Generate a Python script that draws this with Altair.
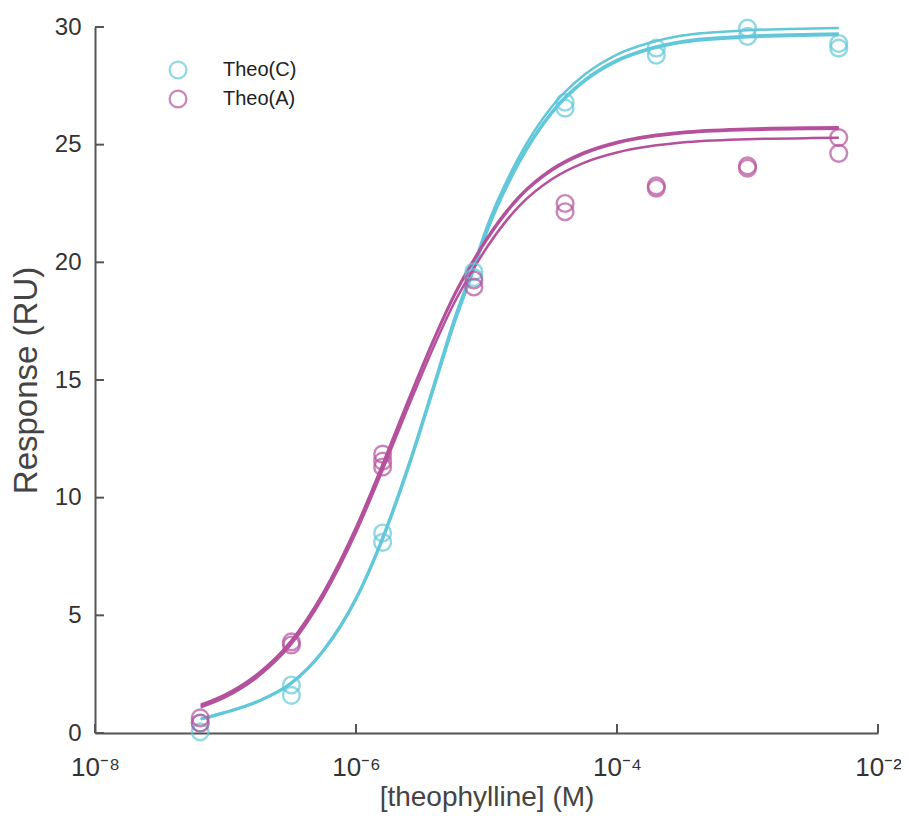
import altair as alt
import pandas as pd

# ---- data ----
conc = [6.4e-8, 3.2e-7, 1.6e-6, 8e-6, 4e-5, 2e-4, 1e-3, 5e-3]
theo_c_rep1 = [0.42, 2.04, 8.5, 19.6, 26.8, 29.1, 29.95, 29.3]
theo_c_rep2 = [0.05, 1.6, 8.1, 19.35, 26.55, 28.8, 29.6, 29.1]
theo_a_rep1 = [0.64, 3.87, 11.85, 19.25, 22.5, 23.25, 24.1, 25.3]
theo_a_rep2 = [0.42, 3.74, 11.55, 18.95, 22.15, 23.15, 24.0, 24.63]
theo_a_extra_conc = [1.6e-6]
theo_a_extra = [11.3]

fit_log_conc = [-7.19, -7.0, -6.75, -6.5, -6.25, -6.0, -5.8, -5.6, -5.4, -5.25,
                -5.1, -5.0, -4.75, -4.5, -4.25, -4.0, -3.75, -3.5, -3.0, -2.5, -2.3]
fit_c1 = [0.6, 0.88, 1.35, 2.1, 3.5, 5.7, 8.2, 11.28, 14.76, 17.41,
          19.7, 21.3, 24.3, 26.4, 27.75, 28.6, 29.1, 29.4, 29.62, 29.7, 29.72]
fit_c2 = [0.6, 0.89, 1.36, 2.12, 3.53, 5.74, 8.27, 11.37, 14.88, 17.55,
          19.86, 21.47, 24.49, 26.61, 27.97, 28.83, 29.33, 29.64, 29.86, 29.94, 29.96]
fit_c3 = [0.58, 0.86, 1.33, 2.08, 3.47, 5.67, 8.16, 11.22, 14.7, 17.34,
          19.63, 21.23, 24.22, 26.33, 27.68, 28.54, 29.04, 29.34, 29.56, 29.64, 29.66]
fit_a1 = [1.2, 1.64, 2.53, 3.9, 5.98, 8.74, 11.37, 14.14, 16.8, 18.6,
          20.1, 21.0, 22.8, 23.96, 24.68, 25.12, 25.38, 25.54, 25.68, 25.73, 25.74]
fit_a2 = [1.15, 1.59, 2.48, 3.85, 5.92, 8.68, 11.31, 14.08, 16.74, 18.54,
          20.04, 20.94, 22.74, 23.9, 24.62, 25.06, 25.32, 25.48, 25.62, 25.67, 25.68]
fit_a3 = [1.09, 1.52, 2.40, 3.75, 5.80, 8.52, 11.12, 13.85, 16.47, 18.25,
          19.72, 20.61, 22.39, 23.53, 24.24, 24.67, 24.93, 25.09, 25.23, 25.28, 25.29]

groups = ["Theo(C)", "Theo(A)"]
colors = ["#62c8d9", "#b5519c"]

y_ticks = [0, 5, 10, 15, 20, 25, 30]
x_ticks = [1e-8, 1e-6, 1e-4, 1e-2]

# ---- tables ----
pts = []
for c, v in zip(conc, theo_c_rep1):
    pts.append({"conc": c, "resp": v, "group": "Theo(C)"})
for c, v in zip(conc, theo_c_rep2):
    pts.append({"conc": c, "resp": v, "group": "Theo(C)"})
for c, v in zip(conc, theo_a_rep1):
    pts.append({"conc": c, "resp": v, "group": "Theo(A)"})
for c, v in zip(conc, theo_a_rep2):
    pts.append({"conc": c, "resp": v, "group": "Theo(A)"})
for c, v in zip(theo_a_extra_conc, theo_a_extra):
    pts.append({"conc": c, "resp": v, "group": "Theo(A)"})
pts_df = pd.DataFrame(pts)

fits = []
for name, grp, vals in [("c1", "Theo(C)", fit_c1), ("c2", "Theo(C)", fit_c2), ("c3", "Theo(C)", fit_c3),
                        ("a1", "Theo(A)", fit_a1), ("a2", "Theo(A)", fit_a2), ("a3", "Theo(A)", fit_a3)]:
    for i, (L, v) in enumerate(zip(fit_log_conc, vals)):
        fits.append({"conc": 10 ** L, "resp": v, "group": grp, "fit": name, "order": i})
fit_df = pd.DataFrame(fits)

ytick_df = pd.DataFrame({"v": y_ticks})
xtick_df = pd.DataFrame({"v": x_ticks})

FONT = "Liberation Sans"
AXIS_COL = "#555555"

label_expr = ("datum.value < 1e-7 ? '10\u207b\u2078' : datum.value < 1e-5 ? '10\u207b\u2076' : "
              "datum.value < 1e-3 ? '10\u207b\u2074' : '10\u207b\u00b2'")

x_scale = alt.Scale(type="log", domain=[1e-8, 1e-2], nice=False)
y_scale = alt.Scale(domain=[0, 30], nice=False)
color_scale = alt.Scale(domain=groups, range=colors)

legend = alt.Legend(title=None, orient="none", legendX=73, legendY=33,
                    symbolType="circle", symbolSize=280, symbolStrokeWidth=2.2,
                    labelFontSize=20, labelOffset=35, rowPadding=3, padding=0,
                    labelFont=FONT, labelColor="#222222")

x_enc = alt.X("conc:Q", scale=x_scale,
              axis=alt.Axis(values=x_ticks, labelExpr=label_expr, title="[theophylline] (M)",
                            ticks=False, labelPadding=21, labelFontSize=26, titlePadding=3,
                            titleFontSize=28, labelFlush=False))
y_enc = alt.Y("resp:Q", scale=y_scale,
              axis=alt.Axis(values=y_ticks, title="Response (RU)", ticks=False,
                            labelPadding=14, labelFontSize=24, titlePadding=11, titleFontSize=33))

lines = alt.Chart(fit_df).mark_line(strokeWidth=2.5, interpolate="monotone", clip=False).encode(
    x=x_enc,
    y=y_enc,
    color=alt.Color("group:N", scale=color_scale, legend=legend),
    detail="fit:N",
    order="order:Q",
)

points = alt.Chart(pts_df).mark_point(shape="circle", filled=False, size=280, strokeWidth=2.4).encode(
    x=alt.X("conc:Q", scale=x_scale),
    y=alt.Y("resp:Q", scale=y_scale),
    color=alt.Color("group:N", scale=color_scale, legend=legend),
)

yticks = alt.Chart(ytick_df).mark_rule(color=AXIS_COL, strokeWidth=2).encode(
    y=alt.Y("v:Q", scale=y_scale),
    x=alt.value(0),
    x2=alt.value(9),
)
xticks = alt.Chart(xtick_df).mark_rule(color=AXIS_COL, strokeWidth=2).encode(
    x=alt.X("v:Q", scale=x_scale),
    y=alt.value(706),
    y2=alt.value(697),
)

chart = alt.layer(lines, points, yticks, xticks).properties(
    width=783,
    height=706,
    autosize=alt.AutoSizeParams(type="none"),
    padding={"left": 87, "top": 19, "right": 23, "bottom": 80},
).configure_view(stroke=None).configure_axis(
    grid=False,
    domainColor=AXIS_COL,
    domainWidth=2,
    labelFont=FONT,
    titleFont=FONT,
    labelColor="#333333",
    titleColor="#444444",
    titleFontWeight="normal",
)

chart.save("out.html", embed_options={"renderer": "svg", "actions": False})
